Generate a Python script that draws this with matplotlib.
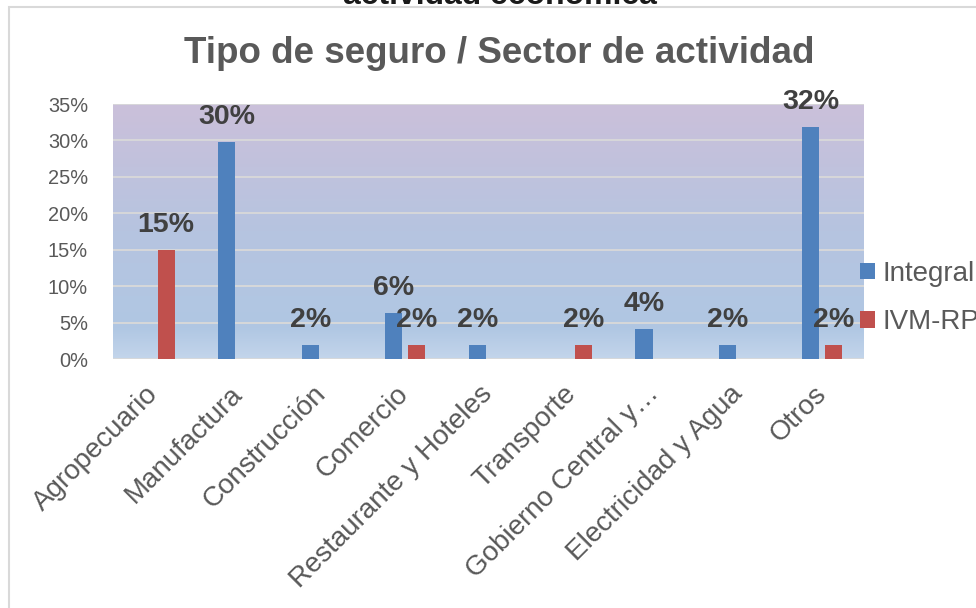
import matplotlib
matplotlib.use("Agg")
import matplotlib.pyplot as plt
import numpy as np
from matplotlib.colors import LinearSegmentedColormap
from matplotlib.patches import Rectangle

plt.rcParams['font.family'] = ['Liberation Sans', 'DejaVu Sans']

categories = ["Agropecuario", "Manufactura", "Construcción", "Comercio",
              "Restaurante y Hoteles", "Transporte", "Gobierno Central y…",
              "Electricidad y Agua", "Otros"]
integral = [0.0, 0.298, 0.02, 0.063, 0.02, 0.0, 0.042, 0.02, 0.319]
ivm_rp = [0.15, 0.0, 0.0, 0.02, 0.0, 0.02, 0.0, 0.0, 0.02]
integral_labels = ["", "30%", "2%", "6%", "2%", "", "4%", "2%", "32%"]
ivm_labels = ["15%", "", "", "2%", "", "2%", "", "", "2%"]
yticks = [0, 0.05, 0.10, 0.15, 0.20, 0.25, 0.30, 0.35]
ytick_labels = ["0%", "5%", "10%", "15%", "20%", "25%", "30%", "35%"]
series_names = ["Integral", "IVM-RP"]
title = "Tipo de seguro / Sector de actividad"
top_cut_text = "actividad económica"

W, H = 976, 608
fig = plt.figure(figsize=(W / 100, H / 100), dpi=100)

# outer chart border
fig.patches.append(Rectangle((9 / W, -0.1), 1.2, (H - 7) / H + 0.1,
                             transform=fig.transFigure, fill=False,
                             edgecolor="#D9D9D9", linewidth=1.5))

# clipped text at the very top
fig.text(0.512, 1 - 4 / H, top_cut_text, ha="center", va="baseline",
         fontsize=23, fontweight="bold", color="#1a1a1a")

left, right = 113 / W, 864 / W
bottom, top = (H - 359.3) / H, (H - 104) / H
ax = fig.add_axes([left, bottom, right - left, top - bottom])

x = np.arange(len(categories))
ax.set_xlim(-0.5, len(categories) - 0.5)
ax.set_ylim(0, 0.35)

# gradient background
cmap = LinearSegmentedColormap.from_list(
    "bg", [(0.0, "#C3D5EB"), (0.12, "#B0C7E3"), (0.5, "#B6C4E0"),
           (1.0, "#CBC0DA")])
grad = np.linspace(0, 1, 256).reshape(-1, 1)
ax.imshow(grad, aspect="auto", cmap=cmap, origin="lower",
          extent=[-0.5, len(categories) - 0.5, 0, 0.35], zorder=0)

for yv in yticks:
    ax.axhline(yv, color="#D9D9D9", linewidth=1.3, zorder=1)

bw = 0.205
off = 0.136
b1 = ax.bar(x - off, integral, width=bw, color="#4F81BD", zorder=2,
            label=series_names[0])
b2 = ax.bar(x + off, ivm_rp, width=bw, color="#C0504D", zorder=2,
            label=series_names[1])

for bars, labels in ((b1, integral_labels), (b2, ivm_labels)):
    for rect, lab in zip(bars, labels):
        if lab:
            ax.annotate(lab, (rect.get_x() + rect.get_width() / 2, rect.get_height()),
                        xytext=(0, 13), textcoords="offset points",
                        ha="center", va="baseline", fontsize=20.5,
                        fontweight="bold", color="#404040", zorder=3,
                        annotation_clip=False)

for s in ax.spines.values():
    s.set_visible(False)

ax.set_yticks(yticks)
ax.set_yticklabels(ytick_labels, fontsize=14.4, color="#595959")
ax.tick_params(axis="y", length=0, pad=18)
ax.set_xticks(x)
ax.set_xticklabels(categories, fontsize=20, color="#595959", rotation=45,
                   ha="right", va="center", rotation_mode="anchor")
ax.tick_params(axis="x", length=0, pad=22)

fig.text(0.512, 1 - 63 / H, title, ha="center", va="baseline",
         fontsize=26.5, fontweight="bold", color="#595959")

leg = ax.legend(loc="center left", bbox_to_anchor=(860 / W, 1 - 298 / H),
                bbox_transform=fig.transFigure, frameon=False, fontsize=20,
                handlelength=0.55, handleheight=0.55, handletextpad=0.25,
                labelspacing=0.8, borderpad=0, borderaxespad=0)
for t in leg.get_texts():
    t.set_color("#595959")

fig.savefig("out.png", dpi=100)
